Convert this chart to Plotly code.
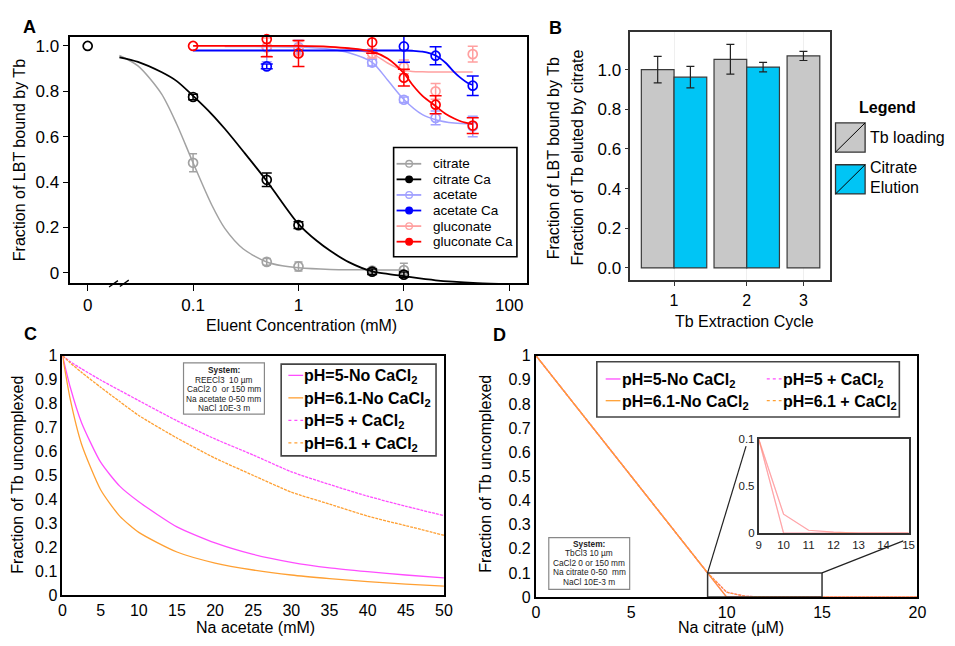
import plotly.graph_objects as go

W, H = 955, 646
FONT = "Liberation Sans, Arial, sans-serif"


def fx(p):
    """pixel column -> paper x"""
    return p / W


def fy(p):
    """pixel row -> paper y"""
    return 1 - p / H


# ---------------- Panel A: LBT-bound Tb vs eluent concentration ----------------
ZERO_POS = 0.01  # the "0 mM" sample sits left of the axis break

conc_citrate = [0.1, 0.5, 1, 5, 10]
frac_citrate = [0.485, 0.048, 0.028, 0.010, 0.012]
err_citrate = [0.040, 0.015, 0.020, 0.010, 0.030]

conc_citrate_ca = [0, 0.1, 0.5, 1, 5, 10]
frac_citrate_ca = [1.0, 0.775, 0.41, 0.21, 0.005, -0.008]
err_citrate_ca = [None, 0.012, 0.03, 0.015, 0.012, 0.012]

conc_acetate = [0.5, 1, 5, 10, 20, 45]
frac_acetate = [0.995, 0.995, 0.927, 0.763, 0.683, 0.645]
err_acetate = [0.065, 0.03, 0.015, 0.012, 0.03, 0.045]

conc_acetate_ca = [0.5, 10, 20, 45]
frac_acetate_ca = [0.91, 0.998, 0.957, 0.825]
err_acetate_ca = [0.01, 0.07, 0.04, 0.043]

conc_gluconate = [0.5, 1, 5, 10, 20, 45]
frac_gluconate = [0.995, 0.99, 0.967, 0.908, 0.80, 0.964]
err_gluconate = [0.04, 0.03, 0.02, 0.03, 0.035, 0.035]

conc_gluconate_ca = [0.1, 0.5, 1, 5, 10, 20, 45]
frac_gluconate_ca = [1.0, 1.03, 0.967, 1.016, 0.86, 0.741, 0.649]
err_gluconate_ca = [None, 0.077, 0.057, 0.048, 0.037, 0.04, 0.035]

# fitted binding curves
fit_citrate_x = [0.02, 0.03, 0.05, 0.07, 0.1, 0.15, 0.2, 0.3, 0.5, 0.7, 1, 2, 5, 10]
fit_citrate_y = [0.958, 0.912, 0.79, 0.655, 0.485, 0.30, 0.196, 0.105, 0.048, 0.031, 0.022, 0.015, 0.013, 0.012]
fit_citrate_ca_x = [0.02, 0.03, 0.05, 0.07, 0.1, 0.15, 0.2, 0.3, 0.5, 0.7, 1, 1.5, 2, 3, 5, 7, 10, 20, 50, 100]
fit_citrate_ca_y = [0.95, 0.93, 0.885, 0.845, 0.78, 0.70, 0.635, 0.535, 0.405, 0.31, 0.215, 0.14, 0.097, 0.047,
                    0.006, -0.005, -0.015, -0.033, -0.045, -0.05]
fit_acetate_x = [0.2, 0.5, 1, 2, 3, 5, 7, 10, 15, 20, 30, 45]
fit_acetate_y = [0.998, 0.997, 0.995, 0.985, 0.97, 0.928, 0.85, 0.764, 0.697, 0.675, 0.66, 0.655]
fit_acetate_ca_x = [0.1, 1, 5, 10, 12, 15, 20, 25, 30, 35, 40, 45]
fit_acetate_ca_y = [0.98, 0.98, 0.98, 0.98, 0.979, 0.975, 0.958, 0.925, 0.885, 0.857, 0.838, 0.828]
fit_gluconate_x = [0.2, 1, 2, 3, 5, 7, 8.5, 10, 12, 15, 20, 45]
fit_gluconate_y = [1.0, 1.0, 0.995, 0.988, 0.965, 0.925, 0.905, 0.893, 0.888, 0.886, 0.885, 0.885]
fit_gluconate_ca_x = [0.1, 1, 2, 3, 5, 7, 10, 12, 15, 20, 25, 30, 35, 45]
fit_gluconate_ca_y = [1.0, 1.0, 0.996, 0.99, 0.975, 0.945, 0.88, 0.83, 0.78, 0.735, 0.70, 0.68, 0.667, 0.655]

a_xticks = [0, 0.1, 1, 10, 100]
a_xticktext = ["0", "0.1", "1", "10", "100"]
a_yticks = [0, 0.2, 0.4, 0.6, 0.8, 1.0]
a_yticktext = ["0", "0.2", "0.4", "0.6", "0.8", "1.0"]

# ---------------- Panel B: repeated extraction cycles ----------------
cycle_labels = ["1", "2", "3"]
cycle_pos = [1.0, 2.0, 2.78]
loading_mean = [1.0, 1.052, 1.069]
loading_err = [0.067, 0.075, 0.023]
elution_mean = [0.962, 1.013]
elution_err = [0.054, 0.024]
b_yticks = [0, 0.2, 0.4, 0.6, 0.8, 1.0]

# ---------------- Panel C: speciation with sodium acetate ----------------
acetate_mM = [0, 1, 2.5, 5, 7.5, 10, 15, 20, 25, 30, 35, 40, 45, 50]
c_ph5_noca = [1, 0.87, 0.72, 0.555, 0.455, 0.39, 0.285, 0.218, 0.17, 0.137, 0.114, 0.098, 0.084, 0.072]
c_ph61_noca = [1, 0.82, 0.63, 0.44, 0.33, 0.262, 0.18, 0.134, 0.105, 0.084, 0.069, 0.056, 0.046, 0.038]
c_ph5_ca = [1, 0.975, 0.945, 0.898, 0.855, 0.812, 0.728, 0.652, 0.585, 0.515, 0.462, 0.413, 0.371, 0.332]
c_ph61_ca = [1, 0.97, 0.93, 0.868, 0.808, 0.75, 0.656, 0.572, 0.5, 0.43, 0.38, 0.33, 0.29, 0.25]

# ---------------- Panel D: speciation with sodium citrate ----------------
citrate_uM = [0, 9, 10, 11, 12, 13, 15, 20]
d_ph5_noca = [1, 0.1, 0.0, 0.0, 0.0, 0.0, 0.0, 0.0]
d_ph61_noca = [1, 0.1, 0.0, 0.0, 0.0, 0.0, 0.0, 0.0]
d_ph5_ca = [1, 0.1, 0.02, 0.003, 0.001, 0.0, 0.0, 0.0]
d_ph61_ca = [1, 0.1, 0.02, 0.003, 0.001, 0.0, 0.0, 0.0]

# ---------------- styles ----------------
GRAY, BLACK = "#A2A2A2", "#000000"
LBLUE, BLUE = "#A0A0FF", "#0000FF"
PINK, RED = "#FFA0A0", "#FF0000"
MAGENTA, ORANGE = "#FF4DFF", "#FFA033"
BAR_GRAY, BAR_CYAN = "#C8C8C8", "#00C5F5"
FINE_DOT = "3px,1px"

fig = go.Figure()


def zero_mapped(conc):
    return [ZERO_POS if c == 0 else c for c in conc]


def add_fit(x, y, color, width):
    fig.add_trace(go.Scatter(x=x, y=y, mode="lines", xaxis="x", yaxis="y",
                             line=dict(color=color, width=width, shape="spline", smoothing=0.8),
                             hoverinfo="skip"))


def add_points(conc, frac, err, color, cap):
    xs = zero_mapped(conc)
    # open circles for every sample
    fig.add_trace(go.Scatter(
        x=xs, y=frac, mode="markers", xaxis="x", yaxis="y", cliponaxis=False,
        marker=dict(symbol="circle-open", size=9, color=color, line=dict(width=1.7, color=color))))
    # error bars only where a spread was measured
    keep = [i for i, e in enumerate(err) if e is not None]
    fig.add_trace(go.Scatter(
        x=[xs[i] for i in keep], y=[frac[i] for i in keep], mode="markers", xaxis="x", yaxis="y",
        cliponaxis=False, marker=dict(size=1, opacity=0, color=color),
        error_y=dict(type="data", array=[err[i] for i in keep], width=cap, thickness=1.5, color=color)))


# light (no Ca) series underneath, Ca series on top
add_fit(fit_citrate_x, fit_citrate_y, GRAY, 1.5)
add_fit(fit_acetate_x, fit_acetate_y, LBLUE, 1.5)
add_fit(fit_gluconate_x, fit_gluconate_y, PINK, 1.5)
add_points(conc_citrate, frac_citrate, err_citrate, GRAY, 4)
add_points(conc_acetate, frac_acetate, err_acetate, LBLUE, 5)
add_points(conc_gluconate, frac_gluconate, err_gluconate, PINK, 5)
add_fit(fit_citrate_ca_x, fit_citrate_ca_y, BLACK, 1.8)
add_fit(fit_acetate_ca_x, fit_acetate_ca_y, BLUE, 1.8)
add_fit(fit_gluconate_ca_x, fit_gluconate_ca_y, RED, 1.8)
add_points(conc_citrate_ca, frac_citrate_ca, err_citrate_ca, BLACK, 5)
add_points(conc_acetate_ca, frac_acetate_ca, err_acetate_ca, BLUE, 6)
add_points(conc_gluconate_ca, frac_gluconate_ca, err_gluconate_ca, RED, 6)

# Panel B bars: loading bar left of the tick, elution bar right; unpaired loading bar centred
BAR_W = 0.45
loading_offset = [-BAR_W if i < len(elution_mean) else -BAR_W / 2 for i in range(len(loading_mean))]
fig.add_trace(go.Bar(
    x=cycle_pos, y=loading_mean, width=BAR_W, offset=loading_offset, xaxis="x2", yaxis="y2",
    marker=dict(color=BAR_GRAY, line=dict(color="#3A3A3A", width=1.2)),
    error_y=dict(type="data", array=loading_err, width=4, thickness=1.2, color="#222222")))
fig.add_trace(go.Bar(
    x=cycle_pos[:len(elution_mean)], y=elution_mean, width=BAR_W, offset=0, xaxis="x2", yaxis="y2",
    marker=dict(color=BAR_CYAN, line=dict(color="#3A3A3A", width=1.2)),
    error_y=dict(type="data", array=elution_err, width=4, thickness=1.2, color="#222222")))

# Panel C curves
c_series = [
    (c_ph5_noca, MAGENTA, "solid"),
    (c_ph61_noca, ORANGE, "solid"),
    (c_ph5_ca, MAGENTA, FINE_DOT),
    (c_ph61_ca, ORANGE, FINE_DOT),
]
for vals, col, dash in c_series:
    fig.add_trace(go.Scatter(x=acetate_mM, y=vals, mode="lines", xaxis="x3", yaxis="y3",
                             line=dict(color=col, width=1.3, dash=dash, shape="spline", smoothing=0.6)))

# Panel D curves, main plot and zoomed inset
d_series = [
    (d_ph5_noca, MAGENTA, "solid"),
    (d_ph5_ca, MAGENTA, FINE_DOT),
    (d_ph61_noca, ORANGE, "solid"),
    (d_ph61_ca, ORANGE, FINE_DOT),
]
for vals, col, dash in d_series:
    fig.add_trace(go.Scatter(x=citrate_uM, y=vals, mode="lines", xaxis="x4", yaxis="y4",
                             line=dict(color=col, width=1.3, dash=dash)))
for vals, col, dash in d_series:
    fig.add_trace(go.Scatter(x=citrate_uM, y=vals, mode="lines", xaxis="x5", yaxis="y5", opacity=0.45,
                             line=dict(color=col, width=1.2)))

# ---------------- axes ----------------
A_X = (67.3, 530.0)
A_Y = (29.3, 282.7)
B_X = (635.0, 837.0)
B_Y = (25.0, 279.0)
C_X = (59.3, 446.0)
C_Y = (357.0, 603.0)
D_X = (539.3, 926.0)
D_Y = (357.0, 605.0)
IN_X = (765.0, 917.0)
IN_Y = (442.3, 539.3)


def xdom(r):
    return [fx(r[0]), fx(r[1])]


def ydom(r):
    return [fy(r[1]), fy(r[0])]


tick_font = dict(family=FONT, size=17, color="#000")
box = dict(showline=True, mirror=True, linecolor="#000", zeroline=False, showgrid=False)

fig.update_layout(
    width=W, height=H, margin=dict(l=0, r=0, t=0, b=0),
    paper_bgcolor="white", plot_bgcolor="white", showlegend=False,
    font=dict(family=FONT, color="#000"),
    xaxis=dict(domain=xdom(A_X), type="log", range=[-2.164, 2.166], tickmode="array",
               tickvals=[ZERO_POS if v == 0 else v for v in a_xticks], ticktext=a_xticktext,
               ticks="outside", ticklen=6, tickwidth=1.2, tickcolor="#000", ticklabelstandoff=0,
               tickfont=tick_font, linewidth=1.6, anchor="y", **box),
    yaxis=dict(domain=ydom(A_Y), range=[-0.046, 1.0416], tickmode="array", tickvals=a_yticks,
               ticktext=a_yticktext, ticks="outside", ticklen=6, tickwidth=1.2, tickcolor="#000",
               tickfont=tick_font, linewidth=1.6, anchor="x", **box),
    xaxis2=dict(domain=xdom(B_X), range=[0.399, 3.14], tickmode="array", tickvals=cycle_pos,
                ticktext=cycle_labels, ticks="outside", ticklen=5, tickcolor="#333",
                tickfont=dict(family=FONT, size=16), showline=True, mirror=True, linecolor="#333",
                linewidth=1.6, zeroline=False, showgrid=True, gridcolor="#EFEFEF", gridwidth=1,
                anchor="y2"),
    yaxis2=dict(domain=ydom(B_Y), range=[-0.059, 1.188], tickmode="array", tickvals=b_yticks,
                ticktext=["%.1f" % v for v in b_yticks], ticks="outside", ticklen=4, tickcolor="#333",
                tickfont=dict(family=FONT, size=17), showline=True, mirror=True, linecolor="#333",
                linewidth=1.6, zeroline=False, showgrid=False, anchor="x2"),
    xaxis3=dict(domain=xdom(C_X), range=[0, 50], tickmode="array", tickvals=list(range(0, 51, 5)),
                ticks="", tickfont=dict(family=FONT, size=16), linewidth=2, anchor="y3",
                ticklabelstandoff=0, **box),
    yaxis3=dict(domain=ydom(C_Y), range=[0, 1], tickmode="array",
                tickvals=[i / 10 for i in range(11)],
                ticktext=["0"] + ["0.%d" % i for i in range(1, 10)] + ["1"],
                ticks="", tickfont=dict(family=FONT, size=16), linewidth=2, anchor="x3", **box),
    xaxis4=dict(domain=xdom(D_X), range=[0, 20], tickmode="array", tickvals=[0, 5, 10, 15, 20],
                ticks="", tickfont=dict(family=FONT, size=16), linewidth=2, anchor="y4",
                ticklabelstandoff=0, **box),
    yaxis4=dict(domain=ydom(D_Y), range=[0, 1], tickmode="array",
                tickvals=[i / 10 for i in range(11)],
                ticktext=["0"] + ["0.%d" % i for i in range(1, 10)] + ["1"],
                ticks="", tickfont=dict(family=FONT, size=16), linewidth=2, anchor="x4", **box),
    xaxis5=dict(domain=xdom(IN_X), range=[9, 15], tickmode="array", tickvals=list(range(9, 16)),
                ticks="", tickfont=dict(family=FONT, size=11.5, color="#222"), showline=True,
                mirror=True, linecolor="#333", linewidth=1.5, zeroline=False, showgrid=False,
                anchor="y5"),
    yaxis5=dict(domain=ydom(IN_Y), range=[0, 0.1], tickmode="array", tickvals=[0, 0.05, 0.1],
                ticktext=["0", "0.5", "0.1"], ticks="", tickfont=dict(family=FONT, size=11.5, color="#222"),
                showline=True, mirror=True, linecolor="#333", linewidth=1.5, zeroline=False,
                showgrid=False, anchor="x5"),
)

shapes = []
annotations = []


def text(x, y, s, size=16, anchor="center", angle=0, bold=False, color="#000", vanchor="middle"):
    annotations.append(dict(
        x=fx(x), y=fy(y), xref="paper", yref="paper", text=("<b>%s</b>" % s) if bold else s,
        showarrow=False, xanchor=anchor, yanchor=vanchor, textangle=angle, borderpad=0,
        font=dict(family=FONT, size=size, color=color)))


def seg(x0, y0, x1, y1, color="#000", width=1.5, dash="solid"):
    shapes.append(dict(type="line", xref="paper", yref="paper", x0=fx(x0), y0=fy(y0),
                       x1=fx(x1), y1=fy(y1), line=dict(color=color, width=width, dash=dash)))


def rect(x0, y0, x1, y1, color="#000", width=1.5, fill="rgba(0,0,0,0)"):
    shapes.append(dict(type="rect", xref="paper", yref="paper", x0=fx(x0), y0=fy(y1),
                       x1=fx(x1), y1=fy(y0), line=dict(color=color, width=width), fillcolor=fill))


def dot(x, y, r, color, filled):
    shapes.append(dict(type="circle", xref="paper", yref="paper", xsizemode="pixel",
                       ysizemode="pixel", xanchor=fx(x), yanchor=fy(y), x0=-r, x1=r, y0=-r, y1=r,
                       line=dict(color=color, width=1.3),
                       fillcolor=color if filled else "rgba(0,0,0,0)"))


# panel letters
text(26, 20, "A", 18, bold=True)
text(559, 21, "B", 18, bold=True)
text(27, 335, "C", 18, bold=True)
text(502, 336, "D", 18, bold=True)

# axis titles
text(16.5, 156, "Fraction of LBT bound by Tb", 16, angle=-90)
text(301.7, 326, "Eluent Concentration (mM)", 16)
text(558, 154, "Fraction of LBT bound by Tb", 16, angle=-90)
text(581.5, 154, "Fraction of Tb eluted by citrate", 16, angle=-90)
text(751, 321.5, "Tb Extraction Cycle", 16)
text(13.5, 479, "Fraction of Tb uncomplexed", 16, angle=-90)
text(254.7, 646, "Na acetate (mM)", 16, vanchor="bottom")
text(488.5, 478.5, "Fraction of Tb uncomplexed", 16, angle=-90)
text(736.7, 646, "Na citrate (µM)", 16, vanchor="bottom")

# axis break on panel A
seg(106.5, 286.5, 115.5, 280.0, width=1.3)
seg(117.5, 286.0, 126.5, 279.5, width=1.3)

# panel A legend
rect(395, 143.3, 520, 255.5, color="#000", width=1.6, fill="white")
a_legend = [("citrate", GRAY, False), ("citrate Ca", BLACK, True), ("acetate", LBLUE, False),
            ("acetate Ca", BLUE, True), ("gluconate", PINK, False), ("gluconate Ca", RED, True)]
for i, (lab, col, filled) in enumerate(a_legend):
    yy = 160 + i * 16
    seg(398, yy, 423, yy, color=col, width=1.8)
    dot(410.7, yy, 3.3, col, filled)
    text(434, yy, lab, 13.5, anchor="left")

# panel B legend
text(895.5, 102, "Legend", 16, bold=True)
for (y0, fill, lines) in [(118, BAR_GRAY, [("Tb loading", 133)]),
                          (161, BAR_CYAN, [("Citrate", 163.5), ("Elution", 184.5)])]:
    rect(843, y0, 873, y0 + 30, color="#333", width=1.3, fill=fill)
    seg(843, y0 + 30, 873, y0, color="#000", width=1)
    for s, yy in lines:
        text(876.5, yy, s, 16, anchor="left")

# panel C system note and legend
rect(182, 364.5, 264, 417, color="#888", width=1.2, fill="white")
c_note = ["<b>System:</b>", "REECl3  10 µm", "CaCl2 0  or 150 mm", "Na acetate 0-50 mm", "NaCl 10E-3 m"]
for i, s in enumerate(c_note):
    text(223, 371.8 + i * 9.8, s, 8.3, color="#222")

rect(281, 365.7, 438, 460, color="#444", width=1.6, fill="white")
c_legend = [("pH=5-No CaCl<sub>2</sub>", MAGENTA, "solid"), ("pH=6.1-No CaCl<sub>2</sub>", ORANGE, "solid"),
            ("pH=5 + CaCl<sub>2</sub>", MAGENTA, "dot"), ("pH=6.1 + CaCl<sub>2</sub>", ORANGE, "dot")]
for i, (lab, col, dash) in enumerate(c_legend):
    yy = 377.3 + i * 23.1
    seg(288.3, yy, 303.3, yy, color=col, width=1.3, dash=dash)
    text(303.5, yy + 1.5, lab, 16, anchor="left", bold=True)

# panel D system note and legend
rect(552.3, 544, 634.3, 597, color="#888", width=1.2, fill="white")
d_note = ["<b>System:</b>", "TbCl3 10 µm", "CaCl2 0 or 150 mm", "Na citrate 0-50  mm", "NaCl 10E-3 m"]
for i, s in enumerate(d_note):
    text(593.3, 550.5 + i * 9.7, s, 8.3, color="#222")

rect(601, 363.3, 907.7, 420, color="#444", width=1.6, fill="white")
d_legend = [(610, 626, 381, c_legend[0]), (610, 626, 403.3, c_legend[1]),
            (773.3, 789, 381, c_legend[2]), (773.3, 789, 403.3, c_legend[3])]
for lx, tx, yy, (lab, col, dash) in d_legend:
    seg(lx, yy, lx + 15, yy, color=col, width=1.3, dash=dash)
    text(tx, yy + 1.5, lab, 16, anchor="left", bold=True)

# zoom window in panel D, and the connector lines to the inset
shapes.append(dict(type="rect", xref="x4", yref="y4", x0=9, x1=15, y0=0, y1=0.1,
                   line=dict(color="#333", width=1.5)))


def d_px(xv, yv):
    px_x = D_X[0] + (D_X[1] - D_X[0]) * xv / 20.0
    px_y = D_Y[1] - (D_Y[1] - D_Y[0]) * yv / 1.0
    return px_x, px_y


p9 = d_px(9, 0.1)
p15 = d_px(15, 0.1)
seg(p9[0], p9[1], 752.3, 450, color="#222", width=1.2)
seg(p15[0], p15[1], 911.7, 547.3, color="#222", width=1.2)

fig.update_layout(shapes=shapes, annotations=annotations)
fig.write_html("out.html")
